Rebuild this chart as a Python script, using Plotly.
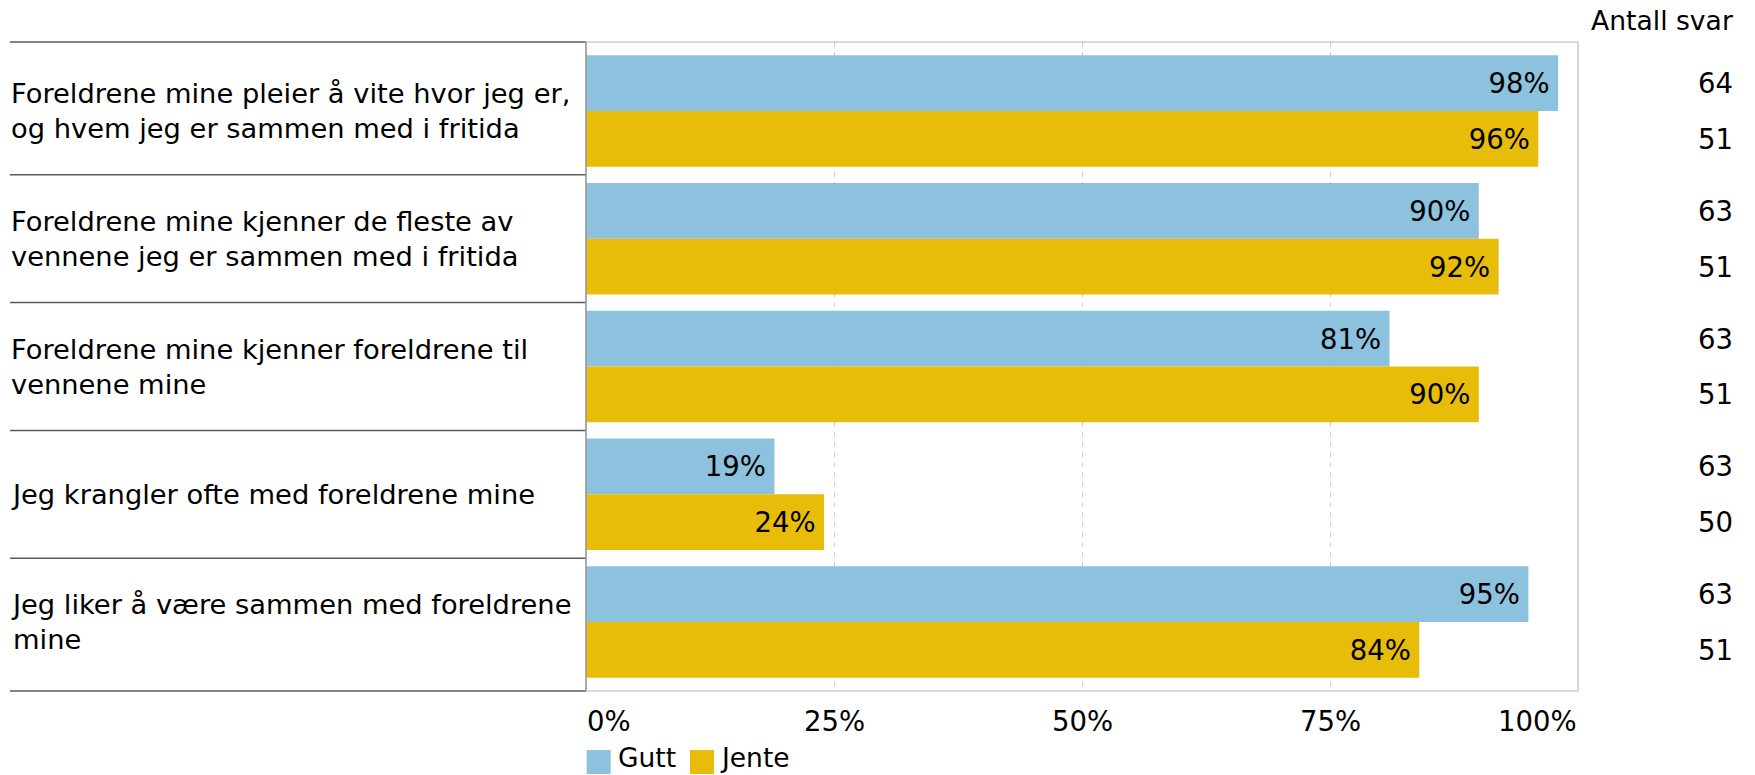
import plotly.graph_objects as go

categories = [
    "Foreldrene mine pleier å vite hvor jeg er,<br>og hvem jeg er sammen med i fritida",
    "Foreldrene mine kjenner de fleste av<br>vennene jeg er sammen med i fritida",
    "Foreldrene mine kjenner foreldrene til<br>vennene mine",
    "Jeg krangler ofte med foreldrene mine",
    "Jeg liker å være sammen med foreldrene<br>mine",
]
series_names = ["Gutt", "Jente"]
gutt_values = [98, 90, 81, 19, 95]
jente_values = [96, 92, 90, 24, 84]
gutt_counts = [64, 63, 63, 63, 63]
jente_counts = [51, 51, 51, 50, 51]
tick_values = [0, 25, 50, 75, 100]
tick_labels = ["0%", "25%", "50%", "75%", "100%"]
count_header = "Antall svar"

colors = ["#8DC2DF", "#E8BD0A"]
FONT = "DejaVu Sans"
W, H = 1755, 775
ML, MR, MT, MB = 586, 177, 42, 84
PW = W - ML - MR
PH = H - MT - MB


def px_x(px):
    return (px - ML) / PW


def px_y(py):
    return (H - MB - py) / PH


bargap = 0.126
n = len(categories)
pad = 0.04

fig = go.Figure()
for name, vals, col in zip(series_names, [gutt_values, jente_values], colors):
    fig.add_trace(go.Bar(
        y=categories, x=vals, name=name, orientation="h",
        marker=dict(color=col, line=dict(width=0)),
        text=[f"{v}%\u2009" for v in vals],
        textposition="inside", insidetextanchor="end",
        textfont=dict(family=FONT, size=27.5, color="#000000"),
        constraintext="none", hoverinfo="skip", showlegend=False,
    ))

shapes = []
annotations = []

# left label area lines (plot top, category boundaries, plot bottom)
x_left = px_x(10)
shapes.append(dict(type="line", xref="paper", yref="paper", x0=x_left, x1=0,
                   y0=1, y1=1, line=dict(color="#5a5a5a", width=1.5)))
shapes.append(dict(type="line", xref="paper", yref="paper", x0=x_left, x1=0,
                   y0=0, y1=0, line=dict(color="#5a5a5a", width=1.5)))
for i in range(n - 1):
    shapes.append(dict(type="line", xref="paper", yref="y", x0=x_left, x1=0,
                       y0=i + 0.5, y1=i + 0.5, line=dict(color="#5a5a5a", width=1.5)))
# plot border
shapes.append(dict(type="rect", xref="paper", yref="paper", x0=0, x1=1, y0=0, y1=1,
                   line=dict(color="#b8b8b8", width=1.2), layer="above"))
shapes.append(dict(type="line", xref="paper", yref="paper", x0=0, x1=0, y0=0, y1=1,
                   line=dict(color="#8f8f8f", width=1.2), layer="above"))

# category labels
for i, c in enumerate(categories):
    annotations.append(dict(xref="paper", yref="y", x=x_left, y=i, text=c,
                            xanchor="left", yanchor="middle", align="left",
                            showarrow=False, borderpad=0,
                            font=dict(family=FONT, size=27.3, color="#000000")))

# counts column
half = (1 - bargap) / 4
x_cnt = px_x(1734)
annotations.append(dict(xref="paper", yref="paper", x=x_cnt, y=px_y(21), text=count_header,
                        xanchor="right", yanchor="middle", showarrow=False, borderpad=0,
                        font=dict(family=FONT, size=26.6, color="#000000")))
for i in range(n):
    for cnt, off in [(gutt_counts[i], -half), (jente_counts[i], half)]:
        annotations.append(dict(xref="paper", yref="y", x=x_cnt, y=i + off, text=str(cnt),
                                xanchor="right", yanchor="middle", showarrow=False, borderpad=0,
                                font=dict(family=FONT, size=27.5, color="#000000")))

# x tick labels
for tv, tl in zip(tick_values, tick_labels):
    anchor = "left" if tv == tick_values[0] else ("right" if tv == tick_values[-1] else "center")
    annotations.append(dict(xref="x", yref="paper", x=tv, y=px_y(721), text=tl,
                            xanchor=anchor, yanchor="middle", showarrow=False, borderpad=0,
                            font=dict(family=FONT, size=27.5, color="#000000")))

# custom legend
legend_items = [(series_names[0], colors[0], 586.7, 616.5), (series_names[1], colors[1], 690, 719)]
for name, col, sx, tx in legend_items:
    shapes.append(dict(type="rect", xref="paper", yref="paper",
                       x0=px_x(sx), x1=px_x(sx + 24), y0=px_y(774), y1=px_y(750),
                       fillcolor=col, line=dict(width=0)))
    annotations.append(dict(xref="paper", yref="paper", x=px_x(tx), y=px_y(757.5), text=name,
                            xanchor="left", yanchor="middle", showarrow=False, borderpad=0,
                            font=dict(family=FONT, size=26.5, color="#000000")))

fig.update_layout(
    width=W, height=H,
    margin=dict(l=ML, r=MR, t=MT, b=MB, autoexpand=False),
    paper_bgcolor="white", plot_bgcolor="white",
    barmode="group", bargap=bargap, bargroupgap=0,
    showlegend=False,
    shapes=shapes, annotations=annotations,
    font=dict(family=FONT, size=26, color="#000000"),
    xaxis=dict(range=[0, 100], tickvals=tick_values[1:-1], showticklabels=False,
               showgrid=True, gridcolor="#cccccc", griddash="5px,5px", gridwidth=1,
               zeroline=False, showline=False, fixedrange=True),
    yaxis=dict(type="category", range=[n - 0.5 + pad, -0.5 - pad], showticklabels=False,
               showgrid=False, zeroline=False, showline=False, fixedrange=True),
)

fig.write_html("out.html", config={"displayModeBar": False},
               post_script="document.body.style.margin='0';document.body.style.overflow='hidden';")
